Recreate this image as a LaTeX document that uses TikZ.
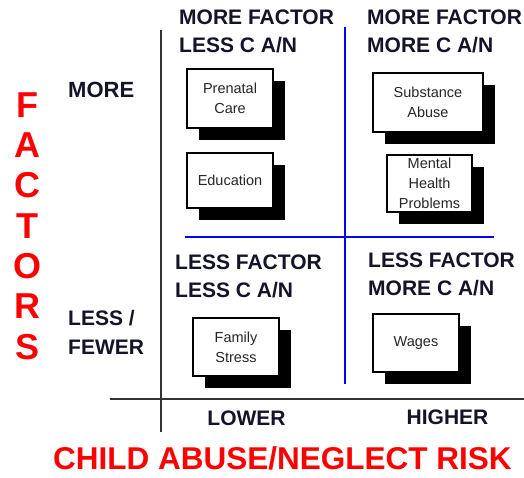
\documentclass[tikz,border=0pt]{standalone}
\usepackage{tikz}
\usetikzlibrary{shadows}
\usepackage{fontspec}
\setmainfont{Liberation Sans}
\definecolor{headtext}{rgb}{0.08,0.08,0.16}
\tikzset{
        factorbox/.style={draw,line width=1.2pt,fill=white,align=center,
          minimum width=86pt,minimum height=58pt,inner sep=1pt,
          font=\fontsize{14.5}{20}\selectfont,text=black!85,
          drop shadow={shadow xshift=12pt,shadow yshift=-12pt,fill=black,opacity=1}},
        quadhead/.style={anchor=west,align=left,inner sep=0pt,text=headtext,
          font=\fontsize{21}{28}\selectfont\bfseries},
        axislabel/.style={inner sep=0pt,text=headtext,
          font=\fontsize{21}{29}\selectfont\bfseries},
        redlabel/.style={inner sep=0pt,text=red,align=center}
    }

\begin{document}
\begin{tikzpicture}[x=1pt,y=-1pt]

\fill[white] (0,0) rectangle (524,477);
\useasboundingbox (0,0) rectangle (524,477);

% axes and quadrant lines
\draw[line width=1.6pt,black!80] (161,30) -- (161,432);
\draw[line width=1.6pt,black!80] (110,399) -- (524,399);
\draw[line width=2.6pt,blue] (345,27) -- (345,384);
\draw[line width=2.6pt,blue] (185,237) -- (494,237);

% quadrant headers
\draw (179,31) node(QLT)[quadhead]{MORE FACTOR\\LESS C A/N};
\draw (367,31) node(QRT)[quadhead]{MORE FACTOR\\MORE C A/N};
\draw (175,276) node(QLB)[quadhead]{LESS FACTOR\\LESS C A/N};
\draw (368,274) node(QRB)[quadhead]{LESS FACTOR\\MORE C A/N};

% factor boxes
\draw (230,98.5) node(PRENATAL)[factorbox,minimum height=59pt]{Prenatal\\Care};
\draw (230,180.5) node(EDU)[factorbox,minimum height=55pt]{Education};
\draw (428,102.5) node(SUBST)[factorbox,minimum width=110pt,minimum height=59pt]{Substance\\Abuse};
\draw (429.5,183.5) node(MENTAL)[factorbox,minimum width=85pt,minimum height=57pt]{Mental\\Health\\Problems};
\draw (236,347) node(FAMILY)[factorbox]{Family\\Stress};
\draw (416,343) node(WAGES)[factorbox]{Wages};

% axis labels
\draw (68,90) node(MORE)[axislabel,anchor=west,font=\fontsize{22}{29}\selectfont\bfseries]{MORE};
\draw (68,332.5) node(FEWER)[axislabel,anchor=west,align=left]{LESS /\\FEWER};
\draw (246.5,418) node(LOWER)[axislabel]{LOWER};
\draw (447.5,417) node(HIGHER)[axislabel]{HIGHER};

\draw (27.5,226) node(FACTORS)[redlabel,font=\fontsize{36}{40.3}\selectfont\bfseries]{F\\A\\C\\T\\O\\R\\S};
\draw (282.5,469) node(RISK)[redlabel,anchor=base,font=\fontsize{31.5}{32}\selectfont\bfseries]{CHILD ABUSE/NEGLECT RISK};

\end{tikzpicture}
\end{document}
